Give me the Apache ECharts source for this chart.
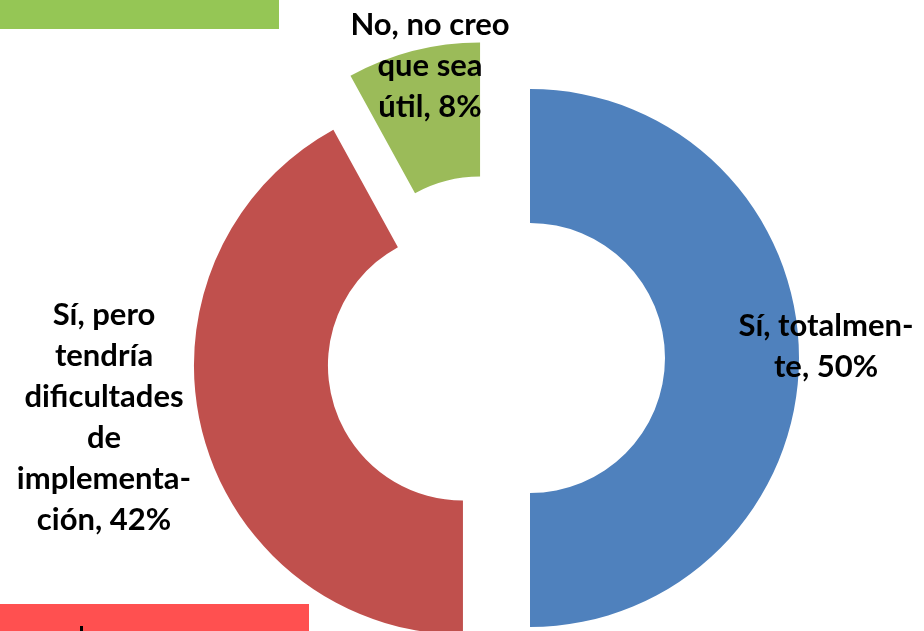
<!DOCTYPE html>
<html>
<head>
<meta charset="utf-8">
<script src="https://cdn.jsdelivr.net/npm/echarts@6/dist/echarts.min.js"></script>
<style>
html,body{margin:0;padding:0;background:#fff;}
#chart{width:924px;height:631px;}
</style>
</head>
<body>
<div id="chart"></div>
<script>
const categories = ['Sí, totalmente', 'Sí, pero tendría dificultades de implementación', 'No, no creo que sea útil'];
const values = [50, 42, 8];
const labelLines = [
  ['Sí, totalmen-', 'te, 50%'],
  ['Sí, pero', 'tendría', 'dificultades', 'de', 'implementa-', 'ción, 42%'],
  ['No, no creo', 'que sea', 'útil, 8%']
];
const colors = ['#4F81BD', '#C0504D', '#9BBB59'];
const explode = [38, 30, 48];
const labelPos = [[826, 346], [104, 417], [430, 66]];

const center = [492, 358];
const radius = [135, 269];

// one pie series per slice so every slice can have its own explosion distance
const series = categories.map((cat, k) => ({
  type: 'pie',
  center: center,
  radius: radius,
  startAngle: 90,
  clockwise: true,
  selectedMode: 'multiple',
  selectedOffset: explode[k],
  silent: true,
  label: { show: false },
  labelLine: { show: false },
  data: categories.map((c, i) => ({
    name: c,
    value: values[i],
    selected: i === k,
    itemStyle: { color: i === k ? colors[i] : 'rgba(0,0,0,0)' },
    select: { itemStyle: { color: i === k ? colors[i] : 'rgba(0,0,0,0)' } }
  }))
}));

const labelGraphics = labelLines.map((lines, i) => ({
  type: 'text',
  x: labelPos[i][0],
  y: labelPos[i][1],
  z: 100,
  style: {
    text: lines.join('\n'),
    fill: '#000',
    font: 'bold 31px Lato',
    lineHeight: 41,
    align: 'center',
    verticalAlign: 'middle'
  }
}));

const chart = echarts.init(document.getElementById('chart'));
chart.setOption({
  animation: false,
  backgroundColor: '#ffffff',
  graphic: [
    { type: 'rect', shape: { x: 0, y: 0, width: 279, height: 29 }, style: { fill: '#95C655' } },
    { type: 'rect', shape: { x: 0, y: 604, width: 309, height: 27 }, style: { fill: '#FF5050' } },
    { type: 'rect', shape: { x: 80, y: 626, width: 3, height: 5 }, style: { fill: '#000' } }
  ].concat(labelGraphics),
  series: series
});
</script>
</body>
</html>
